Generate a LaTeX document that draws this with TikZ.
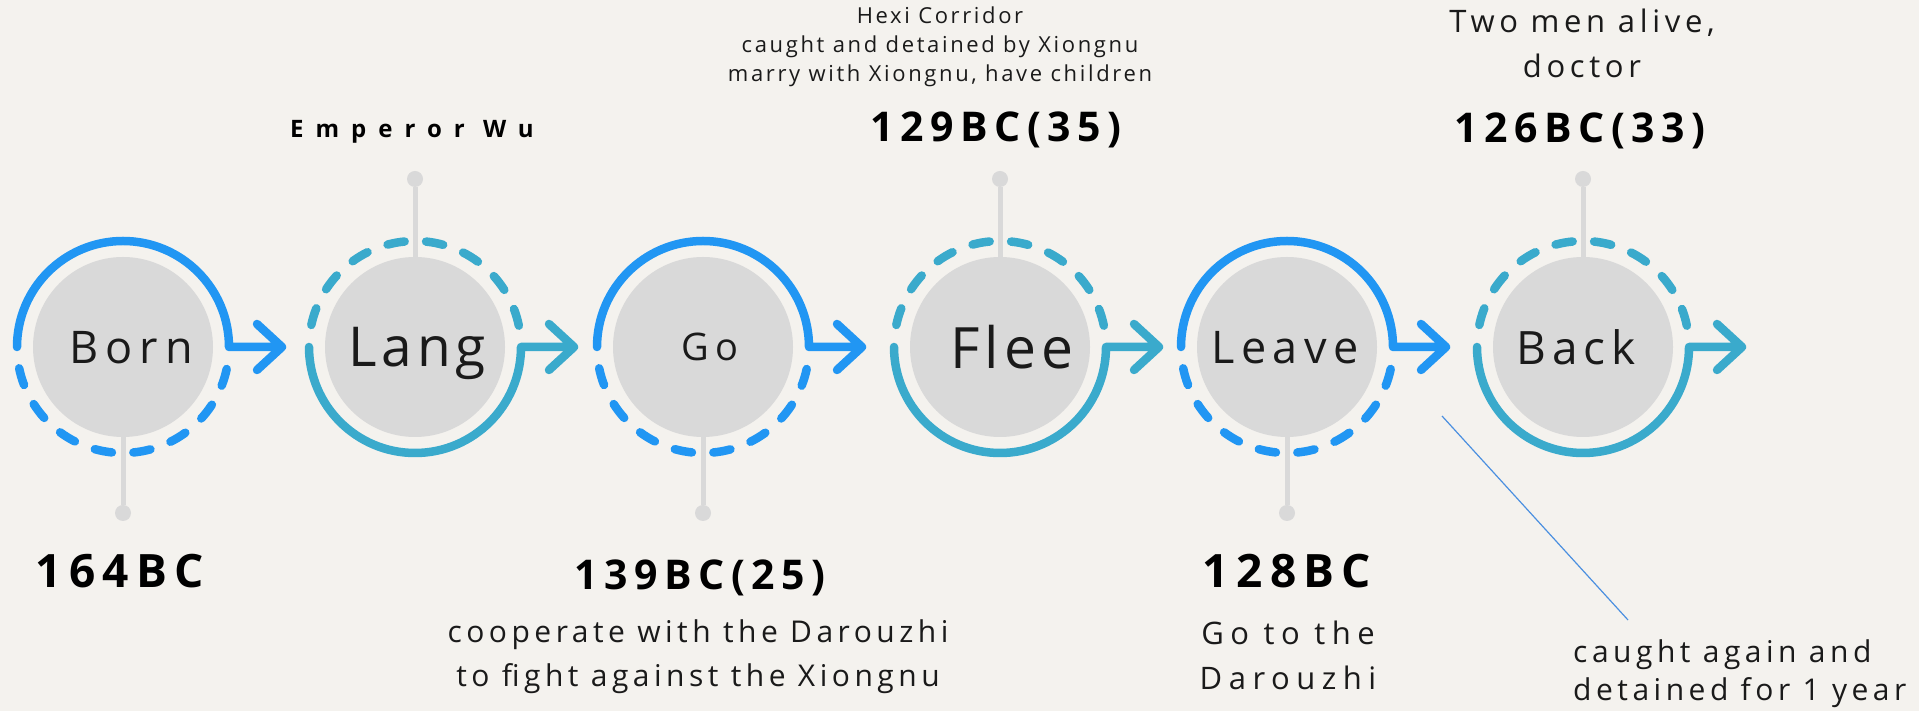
\documentclass[tikz,border=0pt]{standalone}
\usepackage{fontspec}
\newfontfamily\lblfont[LetterSpace=16]{Open Sans}
\newfontfamily\widefont[LetterSpace=50]{Open Sans}
\newfontfamily\notefont[LetterSpace=15]{Open Sans}
\newcommand{\fsz}[2]{\fontsize{#1}{#2}\selectfont}

\definecolor{paper}{HTML}{F4F2EE}
\definecolor{ringblue}{HTML}{2196F3}
\definecolor{ringteal}{HTML}{3AAACC}
\definecolor{discgray}{HTML}{D9D9D9}
\definecolor{inkblack}{HTML}{1A1A1A}
\definecolor{pointer}{HTML}{4A8FE0}

\tikzset{
  disc/.style={circle, fill=discgray, minimum size=180pt, inner sep=0pt},
  stagelbl/.style={text=inkblack, text depth=0pt, inner sep=0pt},
  ring/.style={draw=#1, line width=8.5pt, line cap=round, line join=round},
  stem/.style={draw=discgray, line width=5pt},
  stemdot/.style={circle, fill=discgray, minimum size=16pt, inner sep=0pt},
  year/.style={font=\lblfont\bfseries\fsz{#1}{#1}, text=black, anchor=base, inner sep=0pt},
  note/.style={align=center, anchor=base, inner sep=0pt, text=inkblack},
}

% #1 node, #2 colour, #3 end angle of the solid half, #4 where the dashed half starts
\newcommand{\ringstage}[4]{%
  \draw[ring=#2] (#1.center) ++(180:106) arc[start angle=180, end angle=#3, radius=106]
    -- ++(53,0) coordinate (#1 tip) -- ++(-25,23) (#1 tip) -- ++(-25,-23);
  \foreach \k in {0,...,7}
    \draw[ring=#2] (#1.center) ++({#4+11.6+21*\k}:106)
      arc[start angle={#4+11.6+21*\k}, delta angle=9.4, radius=106];
}

\begin{document}
\begin{tikzpicture}[x=1pt,y=1pt]
  \useasboundingbox (0,0) rectangle (1919,711);
  \fill[paper] (0,0) rectangle (1919,711);

  % stems to the dots
  \node[stemdot] (born dot) at (123,198) {};
  \node[stemdot] (lang dot) at (415,532) {};
  \node[stemdot] (go dot) at (703,198) {};
  \node[stemdot] (flee dot) at (1000,532) {};
  \node[stemdot] (leave dot) at (1287,198) {};
  \node[stemdot] (back dot) at (1583,532) {};

  % the six stages
  \node[disc] (born) at (123,364) {};
  \node[disc] (lang) at (415,364) {};
  \node[disc] (go) at (703,364) {};
  \node[disc] (flee) at (1000,364) {};
  \node[disc] (leave) at (1287,364) {};
  \node[disc] (back) at (1583,364) {};

  \node[stagelbl, font=\lblfont\fsz{45}{54}] (born label) at ([xshift=8]born.center) {Born};
  \node[stagelbl, font=\lblfont\addfontfeatures{LetterSpace=9}\fsz{55}{64}] (lang label) at ([xshift=2]lang.center) {Lang};
  \node[stagelbl, font=\lblfont\fsz{38}{46}] (go label) at ([xshift=7]go.center) {Go};
  \node[stagelbl, font=\lblfont\addfontfeatures{LetterSpace=9}\fsz{57}{66}] (flee label) at ([xshift=12]flee.center) {Flee};
  \node[stagelbl, font=\lblfont\addfontfeatures{LetterSpace=14}\fsz{45}{54}] (leave label) at ([xshift=-2]leave.center) {Leave};
  \node[stagelbl, font=\lblfont\addfontfeatures{LetterSpace=13}\fsz{46}{56}] (back label) at ([xshift=-7]back.center) {Back};

  \draw[stem] (born) -- (born dot);
  \draw[stem] (lang) -- (lang dot);
  \draw[stem] (go) -- (go dot);
  \draw[stem] (flee) -- (flee dot);
  \draw[stem] (leave) -- (leave dot);
  \draw[stem] (back) -- (back dot);

  \ringstage{born}{ringblue}{0}{180}
  \ringstage{lang}{ringteal}{360}{0}
  \ringstage{go}{ringblue}{0}{180}
  \ringstage{flee}{ringteal}{360}{0}
  \ringstage{leave}{ringblue}{0}{180}
  \ringstage{back}{ringteal}{360}{0}

  % years
  \node[year=46] (y164) at (120,123) {164BC};
  \node[year=41] (y139) at (700,121) {139BC(25)};
  \node[year=46] (y128) at (1287,123) {128BC};
  \node[year=41] (y129) at (996,569) {129BC(35)};
  \node[year=41] (y126) at (1580,568) {126BC(33)};
  \node[font=\widefont\bfseries\fsz{24}{28}, anchor=base, inner sep=0pt] (wu) at (412,573) {Emperor Wu};

  % notes
  \node[note, font=\notefont\addfontfeatures{LetterSpace=12}\fsz{22}{29}] (hexi) at (940,629)
    {Hexi Corridor\\caught and detained by Xiongnu\\marry with Xiongnu, have children};
  \node[note, font=\notefont\fsz{30}{44}] (ally) at (698,24)
    {cooperate with the Darouzhi\\to fight against the Xiongnu};
  \node[note, font=\notefont\addfontfeatures{LetterSpace=21}\fsz{31}{45}] (darouzhi) at (1288,21)
    {Go to the\\Darouzhi};
  \node[note, font=\notefont\fsz{31}{45}] (alive) at (1582,633) {Two men alive,\\doctor};
  \node[note, align=left, anchor=base west, font=\notefont\fsz{30}{38}] (caught) at (1573,10)
    {caught again and\\detained for 1 year};

  \coordinate (ptr top) at (1442,295);
  \coordinate (ptr end) at (1628,91);
  \draw[pointer, line width=1.2pt] (ptr top) -- (ptr end);
\end{tikzpicture}
\end{document}
